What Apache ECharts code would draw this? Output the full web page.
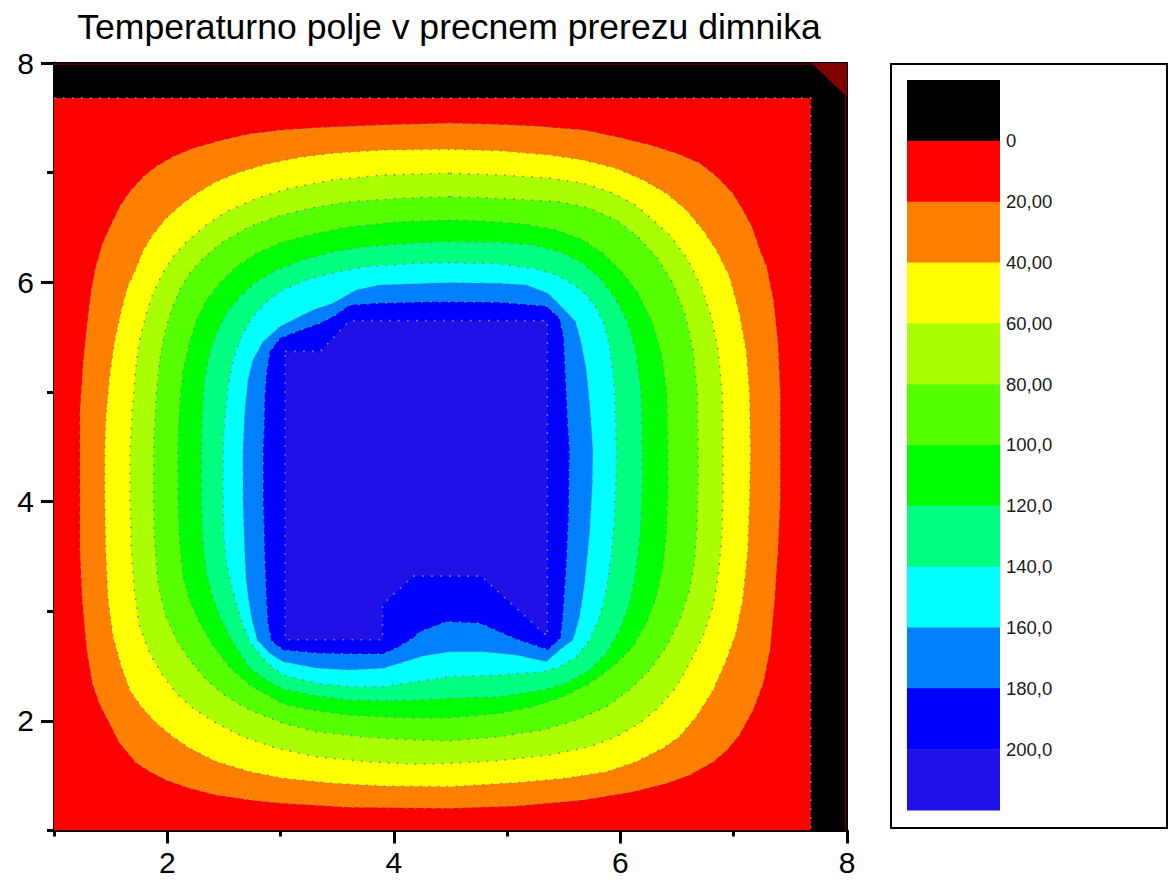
<!DOCTYPE html>
<html><head><meta charset="utf-8"><title>Temperaturno polje</title>
<script src="https://cdn.jsdelivr.net/npm/echarts@6/dist/echarts.min.js"></script>
<style>html,body{margin:0;padding:0;background:#fff}#chart{width:1173px;height:881px}</style>
</head><body><div id="chart"></div>
<script>
const titleText = 'Temperaturno polje v precnem prerezu dimnika';
const majorTicks = [2, 4, 6, 8];
const minorTicks = [1, 3, 5, 7];
const levels = [0, 20, 40, 60, 80, 100, 120, 140, 160, 180, 200];
const legendLabels = ['0', '20,00', '40,00', '60,00', '80,00', '100,0', '120,0', '140,0', '160,0', '180,0', '200,0'];
const bandColors = ['#000000', '#ff0000', '#ff8000', '#ffff00', '#aaff00', '#55ff00', '#00ff00', '#00ff80', '#00ffff', '#0080ff', '#0000ff', '#1f10e8'];

// isotherm outlines, [x, y] in axis units
const contour0 = [[1, 1], [7.68, 1], [7.68, 7.68], [1, 7.68]];
const contour0Line = [[1, 7.68], [7.68, 7.68], [7.68, 1]];
const contour20 = [[4.49,7.45],[3.90,7.435],[3.32,7.41],[3.02,7.39],[2.73,7.353],[2.49,7.298],[2.23,7.222],[2.05,7.146],[1.90,7.054],[1.79,6.963],[1.67,6.826],[1.58,6.69],[1.51,6.538],[1.43,6.356],[1.37,6.142],[1.33,5.93],[1.29,5.595],[1.26,5.291],[1.23,4.835],[1.23,4.471],[1.23,4.015],[1.23,3.559],[1.25,3.103],[1.29,2.647],[1.34,2.343],[1.40,2.16],[1.49,1.978],[1.58,1.795],[1.73,1.613],[1.85,1.536],[1.99,1.461],[2.20,1.385],[2.43,1.324],[2.73,1.278],[3.02,1.248],[3.61,1.212],[4.49,1.202],[5.08,1.223],[5.67,1.278],[6.11,1.354],[6.41,1.431],[6.61,1.506],[6.82,1.628],[6.94,1.734],[7.05,1.871],[7.17,2.099],[7.26,2.343],[7.32,2.647],[7.36,3.103],[7.39,3.559],[7.41,4.015],[7.41,4.471],[7.41,4.988],[7.39,5.444],[7.35,5.839],[7.29,6.142],[7.23,6.295],[7.16,6.507],[7.08,6.66],[6.99,6.812],[6.85,6.963],[6.70,7.085],[6.49,7.177],[6.26,7.252],[5.96,7.328],[5.67,7.389],[5.23,7.426],[4.79,7.444]];
const contour40 = [[4.49,7.213],[3.90,7.207],[3.46,7.177],[3.17,7.14],[2.875,7.079],[2.61,6.994],[2.43,6.918],[2.26,6.812],[2.14,6.721],[1.99,6.584],[1.87,6.432],[1.79,6.295],[1.73,6.142],[1.65,5.96],[1.595,5.747],[1.536,5.474],[1.49,5.139],[1.456,4.744],[1.448,4.471],[1.448,4.015],[1.456,3.559],[1.477,3.103],[1.521,2.768],[1.595,2.494],[1.668,2.281],[1.771,2.129],[1.904,1.978],[2.05,1.856],[2.198,1.75],[2.433,1.628],[2.727,1.536],[3.02,1.476],[3.46,1.43],[3.90,1.406],[4.49,1.40],[5.08,1.436],[5.52,1.476],[5.88,1.536],[6.14,1.628],[6.375,1.75],[6.52,1.856],[6.67,2.038],[6.82,2.281],[6.935,2.555],[7.02,2.799],[7.08,3.103],[7.125,3.559],[7.14,4.015],[7.149,4.471],[7.14,4.988],[7.11,5.383],[7.05,5.717],[6.964,6.051],[6.846,6.295],[6.728,6.477],[6.582,6.66],[6.405,6.812],[6.20,6.933],[5.96,7.04],[5.67,7.116],[5.375,7.161],[4.93,7.20]];
const contour60 = [[4.49,6.994],[3.90,6.979],[3.46,6.933],[3.08,6.857],[2.79,6.766],[2.52,6.644],[2.345,6.523],[2.17,6.37],[2.05,6.234],[1.96,6.082],[1.874,5.90],[1.816,5.717],[1.756,5.474],[1.721,5.201],[1.692,4.835],[1.674,4.471],[1.674,4.015],[1.683,3.559],[1.712,3.163],[1.756,2.859],[1.845,2.616],[1.948,2.434],[2.08,2.251],[2.227,2.115],[2.433,1.978],[2.668,1.856],[2.963,1.75],[3.316,1.673],[3.757,1.628],[4.2,1.604],[4.49,1.613],[4.93,1.637],[5.375,1.689],[5.73,1.764],[5.964,1.856],[6.17,1.978],[6.346,2.129],[6.493,2.312],[6.611,2.525],[6.728,2.768],[6.816,3.041],[6.861,3.315],[6.891,3.619],[6.905,4.015],[6.905,4.471],[6.899,4.988],[6.861,5.383],[6.802,5.686],[6.714,5.96],[6.596,6.203],[6.449,6.416],[6.287,6.568],[6.11,6.721],[5.905,6.826],[5.67,6.903],[5.375,6.949],[4.93,6.979]];
const contour80 = [[4.49,6.781],[4.05,6.766],[3.61,6.735],[3.257,6.675],[2.963,6.598],[2.727,6.507],[2.492,6.37],[2.315,6.219],[2.198,6.082],[2.109,5.93],[2.036,5.747],[1.977,5.535],[1.933,5.291],[1.904,4.988],[1.889,4.683],[1.88,4.471],[1.88,4.015],[1.889,3.619],[1.918,3.255],[1.977,2.981],[2.08,2.738],[2.198,2.555],[2.345,2.373],[2.522,2.22],[2.727,2.099],[3.021,1.978],[3.316,1.901],[3.757,1.85],[4.2,1.825],[4.49,1.816],[4.93,1.856],[5.316,1.917],[5.611,2.008],[5.876,2.129],[6.081,2.281],[6.258,2.464],[6.405,2.676],[6.523,2.92],[6.611,3.194],[6.655,3.467],[6.675,3.771],[6.684,4.167],[6.684,4.471],[6.679,4.988],[6.64,5.383],[6.567,5.717],[6.463,5.991],[6.317,6.234],[6.154,6.416],[5.964,6.568],[5.728,6.675],[5.463,6.735],[5.081,6.757],[4.79,6.772]];
const contour100 = [[4.49,6.568],[4.05,6.553],[3.61,6.507],[3.316,6.447],[3.021,6.37],[2.786,6.264],[2.61,6.142],[2.462,5.991],[2.345,5.839],[2.257,5.656],[2.198,5.444],[2.139,5.20],[2.109,4.896],[2.094,4.471],[2.094,4.015],[2.109,3.622],[2.139,3.312],[2.198,3.103],[2.286,2.892],[2.401,2.692],[2.551,2.491],[2.727,2.327],[3.021,2.154],[3.316,2.09],[3.61,2.053],[3.904,2.035],[4.199,2.026],[4.493,2.026],[4.934,2.069],[5.228,2.129],[5.493,2.22],[5.728,2.343],[5.934,2.494],[6.11,2.676],[6.228,2.89],[6.317,3.132],[6.375,3.406],[6.405,3.711],[6.419,4.106],[6.419,4.471],[6.41,4.988],[6.361,5.352],[6.273,5.656],[6.154,5.90],[6.022,6.082],[5.846,6.264],[5.669,6.386],[5.434,6.477],[5.139,6.532],[4.786,6.559]];
const contour120 = [[4.493,6.37],[4.199,6.361],[3.757,6.325],[3.462,6.279],[3.198,6.203],[2.963,6.112],[2.786,6.005],[2.639,5.869],[2.522,5.717],[2.433,5.535],[2.374,5.352],[2.33,5.109],[2.31,4.835],[2.301,4.471],[2.301,4.015],[2.315,3.622],[2.345,3.349],[2.401,3.13],[2.471,2.938],[2.568,2.738],[2.727,2.482],[2.875,2.373],[3.021,2.291],[3.316,2.227],[3.61,2.19],[3.904,2.181],[4.199,2.19],[4.493,2.206],[4.934,2.22],[5.316,2.281],[5.522,2.343],[5.728,2.464],[5.876,2.616],[5.993,2.829],[6.081,3.072],[6.14,3.376],[6.176,3.711],[6.193,4.167],[6.193,4.471],[6.184,4.988],[6.14,5.352],[6.066,5.626],[5.964,5.839],[5.831,6.021],[5.669,6.173],[5.463,6.279],[5.228,6.34],[4.934,6.365]];
const contour140 = [[4.493,6.179],[4.199,6.173],[3.757,6.142],[3.462,6.088],[3.228,6.021],[3.021,5.93],[2.875,5.823],[2.756,5.686],[2.654,5.504],[2.58,5.291],[2.536,5.048],[2.507,4.744],[2.492,4.471],[2.492,4.015],[2.5,3.677],[2.522,3.44],[2.566,3.239],[2.639,2.966],[2.727,2.719],[2.875,2.537],[3.021,2.418],[3.316,2.343],[3.61,2.312],[3.904,2.312],[4.199,2.357],[4.493,2.403],[4.934,2.418],[5.316,2.448],[5.463,2.494],[5.611,2.585],[5.728,2.738],[5.816,2.95],[5.876,3.194],[5.92,3.497],[5.949,3.862],[5.964,4.318],[5.964,4.471],[5.955,4.896],[5.934,5.2],[5.899,5.444],[5.852,5.626],[5.787,5.763],[5.699,5.884],[5.581,5.984],[5.434,6.067],[5.228,6.128],[4.934,6.167]];
const contour160 = [[4.493,5.996],[4.316,5.991],[3.875,5.975],[3.669,5.93],[3.462,5.808],[3.286,5.747],[3.139,5.672],[2.992,5.595],[2.845,5.458],[2.756,5.291],[2.712,5.109],[2.683,4.805],[2.668,4.471],[2.668,4.015],[2.683,3.559],[2.696,3.285],[2.718,3.103],[2.745,2.938],[2.793,2.738],[2.904,2.616],[3.021,2.54],[3.316,2.482],[3.61,2.464],[3.904,2.479],[4.051,2.525],[4.257,2.592],[4.493,2.631],[4.786,2.631],[5.081,2.601],[5.346,2.54],[5.463,2.646],[5.581,2.738],[5.64,2.95],[5.684,3.255],[5.728,3.711],[5.752,4.167],[5.757,4.471],[5.728,4.896],[5.699,5.2],[5.655,5.444],[5.605,5.641],[5.493,5.763],[5.36,5.9],[5.17,5.975],[4.934,5.991]];
const contour180 = [[4.493,5.823],[4.316,5.823],[3.846,5.808],[3.61,5.793],[3.462,5.686],[3.345,5.626],[3.139,5.549],[2.992,5.489],[2.904,5.367],[2.875,5.17],[2.86,4.957],[2.853,4.653],[2.845,4.471],[2.846,4.015],[2.86,3.467],[2.875,3.103],[2.886,2.892],[2.919,2.728],[3.021,2.646],[3.316,2.616],[3.61,2.61],[3.904,2.61],[4.022,2.662],[4.169,2.753],[4.228,2.811],[4.463,2.904],[4.757,2.89],[5.081,2.744],[5.36,2.646],[5.472,2.753],[5.493,2.95],[5.522,3.406],[5.543,3.862],[5.552,4.471],[5.537,4.683],[5.516,5.139],[5.499,5.504],[5.463,5.672],[5.346,5.784],[4.934,5.818]];
const contour200 = [[3.04,5.37],[3.35,5.37],[3.61,5.65],[5.355,5.65],[5.355,2.77],[4.77,3.32],[4.17,3.32],[3.90,3.06],[3.90,2.74],[3.04,2.74]];
const cornerPatch = [[7.685, 8], [8, 8], [8, 7.69]];
const edgeLine = [[1, 7.99], [7.985, 7.99], [7.985, 1]];

const contours = [contour0, contour20, contour40, contour60, contour80, contour100, contour120, contour140, contour160, contour180, contour200];

const FONT = '"Liberation Sans", Arial, Helvetica, sans-serif';
const DOT = { stroke: '#7a8898', lineWidth: 1.6, lineDash: [1.6, 7.4] };

function areaSeries(points, fill, dotted) {
  return {
    type: 'custom', coordinateSystem: 'cartesian2d', xAxisIndex: 0, yAxisIndex: 0,
    silent: true, animation: false, clip: true, data: points,
    renderItem: function (params, api) {
      if (params.dataIndex !== 0) return null;
      const pts = points.map(p => api.coord(p));
      const style = dotted ? Object.assign({ fill: fill }, DOT) : { fill: fill, lineWidth: 0 };
      return { type: 'polygon', shape: { points: pts }, style: style };
    }
  };
}
function lineSeries(points, style) {
  return {
    type: 'custom', coordinateSystem: 'cartesian2d', xAxisIndex: 0, yAxisIndex: 0,
    silent: true, animation: false, clip: false, data: points,
    renderItem: function (params, api) {
      if (params.dataIndex !== 0) return null;
      const pts = points.map(p => api.coord(p));
      return { type: 'polyline', shape: { points: pts }, style: Object.assign({ fill: null }, style) };
    }
  };
}

const series = contours.map((pts, i) => areaSeries(pts, bandColors[i + 1], i > 0));
series.push(lineSeries(contour0Line, DOT));
series.push(areaSeries(cornerPatch, '#800000', false));
series.push(lineSeries(edgeLine, { stroke: '#800000', lineWidth: 1 }));

const baseAxis = { type: 'value', min: 1, max: 8, interval: 1, gridIndex: 0, splitLine: { show: false } };
const xAxis = [
  Object.assign({}, baseAxis, {
    position: 'bottom',
    axisLine: { onZero: false, lineStyle: { color: '#000', width: 3 } },
    axisTick: { show: true, customValues: majorTicks, length: 13, lineStyle: { color: '#000', width: 3 } },
    axisLabel: { customValues: majorTicks, fontSize: 30, color: '#000', margin: 17, fontFamily: FONT }
  }),
  Object.assign({}, baseAxis, {
    position: 'bottom',
    axisLine: { show: false, onZero: false },
    axisTick: { show: true, customValues: minorTicks, length: 6, lineStyle: { color: '#000', width: 3 } },
    axisLabel: { show: false }
  }),
  Object.assign({}, baseAxis, {
    position: 'top',
    axisLine: { onZero: false, lineStyle: { color: '#000', width: 2 } },
    axisTick: { show: false }, axisLabel: { show: false }
  })
];
const yAxis = [
  Object.assign({}, baseAxis, {
    position: 'left',
    axisLine: { onZero: false, lineStyle: { color: '#000', width: 3 } },
    axisTick: { show: true, customValues: majorTicks, length: 13, lineStyle: { color: '#000', width: 3 } },
    axisLabel: { customValues: majorTicks, fontSize: 30, color: '#000', margin: 20, fontFamily: FONT }
  }),
  Object.assign({}, baseAxis, {
    position: 'left',
    axisLine: { show: false, onZero: false },
    axisTick: { show: true, customValues: minorTicks, length: 7, lineStyle: { color: '#000', width: 3 } },
    axisLabel: { show: false }
  }),
  Object.assign({}, baseAxis, {
    position: 'right',
    axisLine: { onZero: false, lineStyle: { color: '#000', width: 2 } },
    axisTick: { show: false }, axisLabel: { show: false }
  })
];

// legend (colour key)
const keyTop = 80, keyStep = 60.83, keyX = 907, keyW = 93;
const graphic = [
  { type: 'text', x: 449, y: 27, silent: true,
    style: { text: titleText, fontSize: 35.6, fontFamily: FONT, fill: '#000', align: 'center', verticalAlign: 'middle' } },
  { type: 'rect', silent: true, shape: { x: 891, y: 64, width: 276, height: 764 },
    style: { fill: '#fff', stroke: '#000', lineWidth: 2 } }
];
bandColors.forEach((c, k) => {
  graphic.push({ type: 'rect', silent: true,
    shape: { x: keyX, y: keyTop + k * keyStep, width: keyW, height: keyStep + 0.6 },
    style: { fill: c, lineWidth: 0 } });
});
legendLabels.forEach((t, k) => {
  graphic.push({ type: 'text', silent: true, x: 1006, y: keyTop + (k + 1) * keyStep,
    style: { text: t, fontSize: 18.5, fontFamily: FONT, fill: '#1a1a1a', align: 'left', verticalAlign: 'middle' } });
});

const chart = echarts.init(document.getElementById('chart'), null, { renderer: 'svg' });
chart.setOption({
  animation: false,
  backgroundColor: '#ffffff',
  grid: { left: 54, top: 63, width: 793, height: 767.5, show: true, backgroundColor: '#000000', borderWidth: 0, containLabel: false },
  xAxis: xAxis,
  yAxis: yAxis,
  series: series,
  graphic: graphic
});
</script></body></html>
